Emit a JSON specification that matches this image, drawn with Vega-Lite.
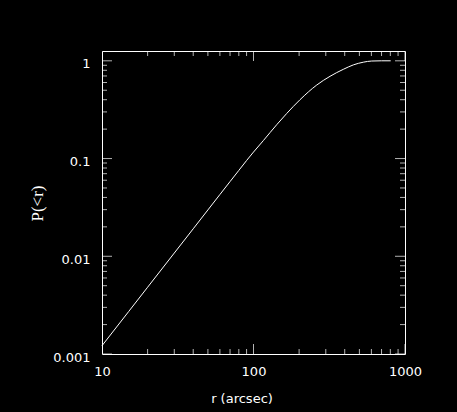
{
  "$schema": "https://vega.github.io/schema/vega-lite/v6.json",
  "width": 303,
  "height": 303,
  "autosize": "none",
  "padding": {"left": 102, "top": 51, "right": 52, "bottom": 58},
  "background": "black",
  "config": {"view": {"stroke": "white", "strokeWidth": 1}},
  "datasets": {
    "curve": [
      {"r": 10, "p": 0.001216},
      {"r": 15, "p": 0.00272},
      {"r": 20, "p": 0.00482},
      {"r": 30, "p": 0.01079},
      {"r": 40, "p": 0.0191},
      {"r": 50, "p": 0.0298},
      {"r": 60, "p": 0.0428},
      {"r": 70, "p": 0.0581},
      {"r": 80, "p": 0.0756},
      {"r": 90, "p": 0.0954},
      {"r": 100, "p": 0.1165},
      {"r": 116.1, "p": 0.1525},
      {"r": 142.3, "p": 0.222},
      {"r": 165.6, "p": 0.289},
      {"r": 202.8, "p": 0.4},
      {"r": 261.4, "p": 0.565},
      {"r": 319.9, "p": 0.694},
      {"r": 391.5, "p": 0.818},
      {"r": 455.8, "p": 0.908},
      {"r": 530.6, "p": 0.968},
      {"r": 602.8, "p": 0.995},
      {"r": 700, "p": 1.0},
      {"r": 804.6, "p": 1.0}
    ],
    "xticks": [
      {"v": 10, "kind": "major"}, {"v": 20, "kind": "minor"}, {"v": 30, "kind": "minor"}, {"v": 40, "kind": "minor"},
      {"v": 50, "kind": "minor"}, {"v": 60, "kind": "minor"}, {"v": 70, "kind": "minor"}, {"v": 80, "kind": "minor"},
      {"v": 90, "kind": "minor"}, {"v": 100, "kind": "major"}, {"v": 200, "kind": "minor"}, {"v": 300, "kind": "minor"},
      {"v": 400, "kind": "minor"}, {"v": 500, "kind": "minor"}, {"v": 600, "kind": "minor"}, {"v": 700, "kind": "minor"},
      {"v": 800, "kind": "minor"}, {"v": 900, "kind": "minor"}, {"v": 1000, "kind": "major"}
    ],
    "yticks": [
      {"v": 0.001, "kind": "major"}, {"v": 0.002, "kind": "minor"}, {"v": 0.003, "kind": "minor"}, {"v": 0.004, "kind": "minor"},
      {"v": 0.005, "kind": "minor"}, {"v": 0.006, "kind": "minor"}, {"v": 0.007, "kind": "minor"}, {"v": 0.008, "kind": "minor"},
      {"v": 0.009, "kind": "minor"}, {"v": 0.01, "kind": "major"}, {"v": 0.02, "kind": "minor"}, {"v": 0.03, "kind": "minor"},
      {"v": 0.04, "kind": "minor"}, {"v": 0.05, "kind": "minor"}, {"v": 0.06, "kind": "minor"}, {"v": 0.07, "kind": "minor"},
      {"v": 0.08, "kind": "minor"}, {"v": 0.09, "kind": "minor"}, {"v": 0.1, "kind": "major"}, {"v": 0.2, "kind": "minor"},
      {"v": 0.3, "kind": "minor"}, {"v": 0.4, "kind": "minor"}, {"v": 0.5, "kind": "minor"}, {"v": 0.6, "kind": "minor"},
      {"v": 0.7, "kind": "minor"}, {"v": 0.8, "kind": "minor"}, {"v": 0.9, "kind": "minor"}, {"v": 1, "kind": "major"}
    ]
  },
  "layer": [
    {
      "data": {"name": "curve"},
      "mark": {"type": "line", "color": "white", "strokeWidth": 1, "interpolate": "monotone"},
      "encoding": {
        "x": {
          "field": "r", "type": "quantitative",
          "scale": {"type": "log", "domain": [10, 1000], "nice": false},
          "axis": {
            "orient": "bottom", "values": [10, 100, 1000], "ticks": false, "tickSize": 0,
            "domain": false, "grid": false, "format": "~g",
            "labelFont": "DejaVu Sans", "labelFontSize": 13, "labelColor": "white",
            "labelPadding": 11, "labelFlush": false, "labelOverlap": false,
            "title": "r (arcsec)", "titleFont": "DejaVu Sans", "titleFontSize": 13,
            "titleFontWeight": "normal", "titleColor": "white",
            "titleX": 139.5, "titleY": 44, "titleBaseline": "middle", "titleAlign": "center"
          }
        },
        "y": {
          "field": "p", "type": "quantitative",
          "scale": {"type": "log", "domain": [0.001, 1.26], "nice": false},
          "axis": {
            "orient": "left", "values": [0.001, 0.01, 0.1, 1], "ticks": false, "tickSize": 0,
            "domain": false, "grid": false, "format": "~g",
            "labelFont": "DejaVu Sans", "labelFontSize": 13, "labelColor": "white",
            "labelPadding": 12, "labelOffset": 3, "labelBaseline": "middle", "labelFlush": false, "labelOverlap": false,
            "title": "P(<r)", "titleFont": "Liberation Serif", "titleFontSize": 17,
            "titleFontWeight": "normal", "titleColor": "white", "titleAngle": -90,
            "titleX": -65, "titleY": 152, "titleBaseline": "middle", "titleAlign": "center"
          }
        }
      }
    },
    {
      "data": {"name": "xticks"},
      "mark": {"type": "tick", "orient": "vertical", "clip": true, "color": "white", "thickness": 1},
      "encoding": {
        "x": {"field": "v", "type": "quantitative", "scale": {"type": "log", "domain": [10, 1000], "nice": false}},
        "y": {"datum": 0.001, "type": "quantitative", "scale": {"type": "log", "domain": [0.001, 1.26], "nice": false}},
        "size": {"field": "kind", "type": "ordinal", "scale": {"domain": ["major", "minor"], "range": [20, 10]}, "legend": null}
      }
    },
    {
      "data": {"name": "xticks"},
      "mark": {"type": "tick", "orient": "vertical", "clip": true, "color": "white", "thickness": 1},
      "encoding": {
        "x": {"field": "v", "type": "quantitative", "scale": {"type": "log", "domain": [10, 1000], "nice": false}},
        "y": {"datum": 1.26, "type": "quantitative", "scale": {"type": "log", "domain": [0.001, 1.26], "nice": false}},
        "size": {"field": "kind", "type": "ordinal", "scale": {"domain": ["major", "minor"], "range": [20, 10]}, "legend": null}
      }
    },
    {
      "data": {"name": "yticks"},
      "mark": {"type": "tick", "orient": "horizontal", "clip": true, "color": "white", "thickness": 1},
      "encoding": {
        "y": {"field": "v", "type": "quantitative", "scale": {"type": "log", "domain": [0.001, 1.26], "nice": false}},
        "x": {"datum": 10, "type": "quantitative", "scale": {"type": "log", "domain": [10, 1000], "nice": false}},
        "size": {"field": "kind", "type": "ordinal", "scale": {"domain": ["major", "minor"], "range": [20, 10]}, "legend": null}
      }
    },
    {
      "data": {"name": "yticks"},
      "mark": {"type": "tick", "orient": "horizontal", "clip": true, "color": "white", "thickness": 1},
      "encoding": {
        "y": {"field": "v", "type": "quantitative", "scale": {"type": "log", "domain": [0.001, 1.26], "nice": false}},
        "x": {"datum": 1000, "type": "quantitative", "scale": {"type": "log", "domain": [10, 1000], "nice": false}},
        "size": {"field": "kind", "type": "ordinal", "scale": {"domain": ["major", "minor"], "range": [20, 10]}, "legend": null}
      }
    }
  ]
}
